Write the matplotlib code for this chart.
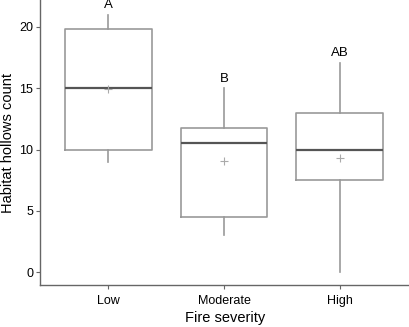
import matplotlib.pyplot as plt

plt.rcParams['font.family'] = ['Liberation Sans', 'DejaVu Sans']

# valeurs
groups = ['Low', 'Moderate', 'High']
whislo = [9, 3, 0]
q1 = [10, 4.5, 7.5]
med = [15, 10.5, 10]
q3 = [19.8, 11.8, 13]
whishi = [21, 15, 17.1]
means = [14.95, 9.1, 9.3]
letters = ['A', 'B', 'AB']

stats = []
for i, g in enumerate(groups):
    stats.append({'label': g, 'whislo': whislo[i], 'q1': q1[i], 'med': med[i],
                  'q3': q3[i], 'whishi': whishi[i], 'fliers': []})

fig = plt.figure(figsize=(4.1, 3.27), dpi=100)
ax = fig.add_axes([0.098, 0.128, 0.9, 0.872])

box_col = '#999999'
ax.bxp(stats, positions=range(len(groups)), widths=0.75, showcaps=False,
       boxprops=dict(color=box_col, lw=1.2),
       whiskerprops=dict(color=box_col, lw=1.2),
       medianprops=dict(color='#555555', lw=1.6))

ax.scatter(range(len(groups)), means, marker='+', color='#aaaaaa', s=30, lw=0.8, zorder=3)

for i, l in enumerate(letters):
    ax.text(i, whishi[i] + 0.3, l, ha='center', va='bottom', fontsize=9.5)

ax.set_xlim(-0.59, 2.6)
ax.set_ylim(-1.05, 22.2)
ax.set_yticks([0, 5, 10, 15, 20])
ax.set_xlabel('Fire severity', fontsize=10.5, labelpad=3)
ax.set_ylabel('Habitat hollows count', fontsize=10.5)
ax.yaxis.set_label_coords(-0.068, 0.5)
ax.tick_params(labelsize=9, color='#666666', length=3, width=0.8, pad=2)
ax.tick_params(axis='x', pad=4)
for s in ['top', 'right']:
    ax.spines[s].set_visible(False)
for s in ['left', 'bottom']:
    ax.spines[s].set_color('#666666')
    ax.spines[s].set_linewidth(1.0)

plt.savefig('out.png')
